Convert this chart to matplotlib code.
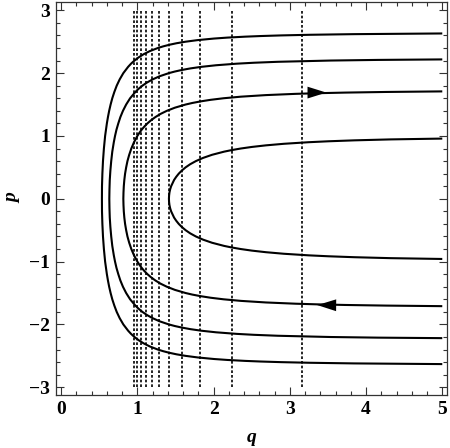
import matplotlib.pyplot as plt
from matplotlib.ticker import MultipleLocator

# vertical dotted lines (q positions)
q_lines = [0.96, 1.0, 1.054, 1.118, 1.195, 1.29, 1.414, 1.58, 1.826, 2.236, 3.162]

# upper branches of the four orbits (lower branch is the mirror image)
q1 = [1.414, 1.416, 1.421, 1.43, 1.443, 1.482, 1.51, 1.543, 1.584, 1.633, 1.693, 1.768, 1.861, 1.98,
      2.138, 2.238, 2.357, 2.502, 2.685, 2.921, 3.244, 3.505, 3.848, 4.323, 5.0]
p1 = [0.0, 0.05, 0.1, 0.15, 0.2, 0.3, 0.35, 0.4, 0.45, 0.5, 0.55, 0.6, 0.65, 0.7,
      0.75, 0.775, 0.8, 0.825, 0.85, 0.875, 0.9, 0.915, 0.93, 0.945, 0.958]

q2 = [0.816, 0.818, 0.822, 0.829, 0.839, 0.853, 0.87, 0.893, 0.921, 0.956, 1.0, 1.027, 1.057, 1.092,
      1.132, 1.18, 1.236, 1.303, 1.387, 1.493, 1.633, 1.722, 1.83, 1.962, 2.132, 2.359, 2.685,
      3.078, 3.356, 3.728, 4.264, 5.0]
p2 = [0.0, 0.1, 0.2, 0.3, 0.4, 0.5, 0.6, 0.7, 0.8, 0.9, 1.0, 1.05, 1.1, 1.15,
      1.2, 1.25, 1.3, 1.35, 1.4, 1.45, 1.5, 1.525, 1.55, 1.575, 1.6, 1.625, 1.65,
      1.67, 1.68, 1.69, 1.7, 1.709]

q3 = [0.632, 0.634, 0.638, 0.646, 0.657, 0.671, 0.691, 0.707, 0.726, 0.75, 0.777, 0.811, 0.853,
      0.905, 0.974, 1.016, 1.066, 1.126, 1.2, 1.292, 1.414, 1.491, 1.584, 1.697, 1.841, 2.032,
      2.302, 2.529, 2.842, 3.536, 4.154, 5.0]
p3 = [0.0, 0.15, 0.3, 0.45, 0.6, 0.75, 0.9, 1.0, 1.1, 1.2, 1.3, 1.4, 1.5,
      1.6, 1.7, 1.75, 1.8, 1.85, 1.9, 1.95, 2.0, 2.025, 2.05, 2.075, 2.1, 2.125,
      2.15, 2.165, 2.18, 2.2, 2.21, 2.218]

q4 = [0.535, 0.536, 0.541, 0.549, 0.561, 0.577, 0.6, 0.614, 0.63, 0.649, 0.671, 0.698, 0.729,
      0.768, 0.816, 0.879, 0.917, 0.962, 1.016, 1.081, 1.163, 1.27, 1.337, 1.416, 1.512, 1.633,
      1.79, 2.005, 2.18, 2.413, 2.618, 2.887, 3.263, 3.84, 5.0]
p4 = [0.0, 0.2, 0.4, 0.6, 0.8, 1.0, 1.2, 1.3, 1.4, 1.5, 1.6, 1.7, 1.8,
      1.9, 2.0, 2.1, 2.15, 2.2, 2.25, 2.3, 2.35, 2.4, 2.425, 2.45, 2.475, 2.5,
      2.525, 2.55, 2.565, 2.58, 2.59, 2.6, 2.61, 2.62, 2.631]

orbits = [(q1, p1), (q2, p2), (q3, p3), (q4, p4)]

fig = plt.figure(figsize=(4.5, 4.48), dpi=100)
ax = fig.add_axes([0.124, 0.118, 0.869, 0.878])

for x in q_lines:
    ax.plot([x, x], [-3, 3], color='black', lw=1.2, linestyle=(0, (1.6, 1.2)))

for qs, ps in orbits:
    qq = qs[::-1] + qs[1:]
    pp = [-v for v in ps[::-1]] + ps[1:]
    ax.plot(qq, pp, color='black', lw=1.5, solid_capstyle='butt', solid_joinstyle='round')

# direction arrows on the E=1.5 orbit
arr = dict(arrowstyle='-|>,head_length=0.8,head_width=0.25', color='black',
           mutation_scale=17, lw=0, shrinkA=0, shrinkB=0)
ax.annotate('', xy=(3.48, 1.69), xytext=(3.2, 1.69), arrowprops=arr)
ax.annotate('', xy=(3.36, -1.692), xytext=(3.64, -1.695), arrowprops=arr)

ax.set_xlim(-0.07, 5.06)
ax.set_ylim(-3.125, 3.135)
ax.xaxis.set_major_locator(MultipleLocator(1))
ax.xaxis.set_minor_locator(MultipleLocator(0.2))
ax.yaxis.set_major_locator(MultipleLocator(1))
ax.yaxis.set_minor_locator(MultipleLocator(0.2))
ax.tick_params(which='both', direction='in', top=True, right=True, width=0.8, color='#333333')
ax.tick_params(which='major', length=6, pad=4)
ax.tick_params(which='minor', length=3)

font = dict(family='Liberation Serif', weight='bold', size=14)
ax.set_xticks(range(6))
ax.set_xticklabels([str(v) for v in range(6)], **font)
ax.set_yticks(range(-3, 4))
ax.set_yticklabels([str(v).replace('-', '\u2212') for v in range(-3, 4)], **font)
for s in ax.spines.values():
    s.set_linewidth(0.9)
    s.set_color('#333333')

ax.set_xlabel('q', family='Liberation Serif', weight='bold', style='italic', size=14, labelpad=8)
ax.set_ylabel('p', family='Liberation Serif', weight='bold', style='italic', size=14, labelpad=6)

fig.savefig('out.png', dpi=100)
